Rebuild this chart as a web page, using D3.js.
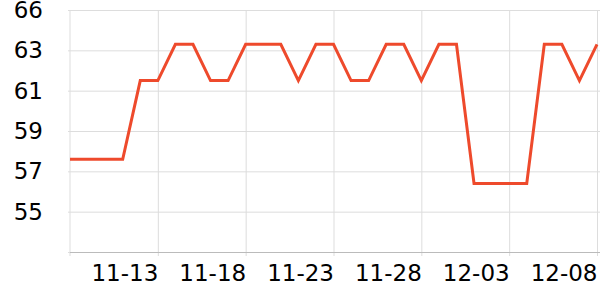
<!DOCTYPE html>
<html>
<head>
<meta charset="utf-8">
<script src="https://cdn.jsdelivr.net/npm/d3@7"></script>
<style>
  body { margin: 0; background: #fff; }
  text { font-family: "DejaVu Sans", sans-serif; }
</style>
</head>
<body>
<svg width="600" height="300"></svg>
<script>
// data
var dates = ["2023-11-08","2023-11-09","2023-11-10","2023-11-11","2023-11-12","2023-11-13","2023-11-14",
  "2023-11-15","2023-11-16","2023-11-17","2023-11-18","2023-11-19","2023-11-20","2023-11-21","2023-11-22",
  "2023-11-23","2023-11-24","2023-11-25","2023-11-26","2023-11-27","2023-11-28","2023-11-29","2023-11-30",
  "2023-12-01","2023-12-02","2023-12-03","2023-12-04","2023-12-05","2023-12-06","2023-12-07","2023-12-08"];
var values = [57.6,57.6,57.6,57.6,61.5,61.5,63.3,63.3,61.5,61.5,63.3,63.3,63.3,61.5,63.3,
  63.3,61.5,61.5,63.3,63.3,61.5,63.3,63.3,56.4,56.4,56.4,56.4,63.3,63.3,61.5,63.3];
var yTicks = [53, 55, 57, 59, 61, 63, 65];
var yTickLabels = ["", "55", "57", "59", "61", "63", "66"];
var xTicks = ["2023-11-13","2023-11-18","2023-11-23","2023-11-28","2023-12-03","2023-12-08"];

var svg = d3.select("svg"),
    width = +svg.attr("width"),
    height = +svg.attr("height");

var margin = {left: 70, top: 10, right: 3, bottom: 48};
var parse = d3.timeParse("%Y-%m-%d");
var fmt = d3.timeFormat("%m-%d");

var data = dates.map(function (d, i) { return {date: parse(d), value: values[i]}; });

var x = d3.scaleTime()
    .domain(d3.extent(data, function (d) { return d.date; }))
    .range([margin.left, width - margin.right]);

var y = d3.scaleLinear()
    .domain([53, 65])
    .range([height - margin.bottom, margin.top]);

// horizontal grid
svg.append("g")
    .attr("transform", "translate(" + margin.left + ",0)")
    .call(d3.axisLeft(y).tickValues(yTicks).tickSize(2).tickFormat(function (d, i) { return yTickLabels[i]; }))
    .call(function (g) {
        g.select(".domain").remove();
        g.selectAll(".tick line").attr("stroke", "#ddd").attr("x2", width - margin.right - margin.left + 3);
        g.selectAll(".tick line").attr("x1", -2);
        g.selectAll(".tick text").attr("x", -27).attr("font-size", 23).attr("fill", "#000")
            .attr("font-family", "DejaVu Sans");
    });

// vertical grid + x labels
var xt = xTicks.map(parse);
svg.append("g")
    .attr("transform", "translate(0," + (height - margin.bottom) + ")")
    .call(d3.axisBottom(x).tickValues(xt).tickSize(4).tickFormat(fmt))
    .call(function (g) {
        g.select(".domain").remove();
        g.selectAll(".tick line").attr("stroke", "#ddd").attr("y1", -(height - margin.bottom - margin.top));
        g.selectAll(".tick text").attr("text-anchor", "end").attr("y", 13)
            .attr("font-size", 23).attr("fill", "#000").attr("font-family", "DejaVu Sans");
    });

// left axis line and bottom axis line
svg.append("line")
    .attr("x1", margin.left).attr("x2", margin.left)
    .attr("y1", margin.top).attr("y2", height - margin.bottom + 4)
    .attr("stroke", "#ddd");
svg.append("line")
    .attr("x1", margin.left).attr("x2", width)
    .attr("y1", height - margin.bottom + 0.5).attr("y2", height - margin.bottom + 0.5)
    .attr("stroke", "#bbb");

var line = d3.line()
    .x(function (d) { return x(d.date); })
    .y(function (d) { return y(d.value); });

svg.append("path")
    .datum(data)
    .attr("fill", "none")
    .attr("stroke", "#ee4a2c")
    .attr("stroke-width", 3)
    .attr("d", line);
</script>
</body>
</html>
